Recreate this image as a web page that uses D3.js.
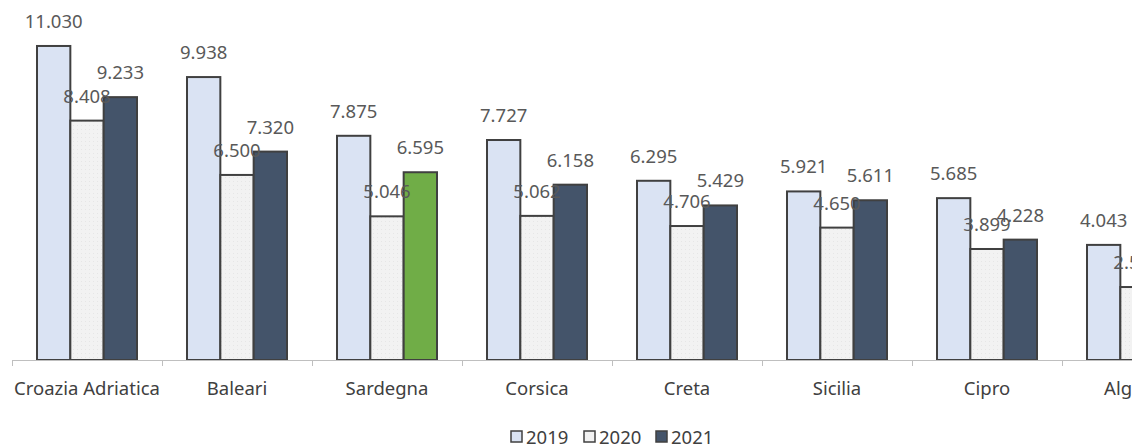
<!DOCTYPE html>
<html><head><meta charset="utf-8">
<script src="https://cdn.jsdelivr.net/npm/d3@7"></script>
<style>html,body{margin:0;padding:0;background:#fff;overflow:hidden}</style>
</head><body>
<svg id="c" width="1132" height="446"></svg>
<script>
const categories = ["Croazia Adriatica","Baleari","Sardegna","Corsica","Creta","Sicilia","Cipro","Algarve"];
const seriesNames = ["2019","2020","2021"];
const values2019 = [11030, 9938, 7875, 7727, 6295, 5921, 5685, 4043];
const values2020 = [8408, 6500, 5046, 5062, 4706, 4650, 3899, 2563];
const values2021 = [9233, 7320, 6595, 6158, 5429, 5611, 4228, 3100];
const highlight = "Sardegna";

const series = [values2019, values2020, values2021];
const fills = ["#dae3f3", "url(#dots)", "#44546a"];
const legendFills = ["#dae3f3", "#f2f2f2", "#44546a"];

const svg = d3.select("#c");
const defs = svg.append("defs");
const pat = defs.append("pattern").attr("id","dots").attr("width",4).attr("height",4).attr("patternUnits","userSpaceOnUse");
pat.append("rect").attr("width",4).attr("height",4).attr("fill","#f2f2f2");
pat.append("rect").attr("x",1).attr("y",1).attr("width",1).attr("height",1).attr("fill","#e6e6e6");

const loc = d3.formatLocale({decimal:",", thousands:".", grouping:[3], currency:["€",""]});
const fmt = loc.format(",d");

const x0 = d3.scaleBand().domain(categories).range([12, 12 + 150*categories.length]).paddingInner(0).paddingOuter(0);
const x1 = d3.scaleBand().domain(seriesNames).range([25, 125]).padding(0);
const y = d3.scaleLinear().domain([0, 12000]).range([360, 360 - 12000*0.02847]);

const font = "Noto Sans, sans-serif";
const fs = 18.5;

const g = svg.append("g");
categories.forEach((c, i) => {
  seriesNames.forEach((s, j) => {
    const v = series[j][i];
    const fill = (j === 2 && c === highlight) ? "#70ad47" : fills[j];
    const bx = x0(c) + x1(s);
    g.append("rect").attr("x", bx).attr("y", y(v)).attr("width", x1.bandwidth()).attr("height", y(0) - y(v))
      .attr("fill", fill).attr("stroke", "#404040").attr("stroke-width", 2);
  });
});
categories.forEach((c, i) => {
  seriesNames.forEach((s, j) => {
    const v = series[j][i];
    const bx = x0(c) + x1(s) + x1.bandwidth()/2;
    g.append("text").attr("x", bx).attr("y", y(v) - 18).attr("text-anchor","middle")
      .attr("font-family", font).attr("font-size", fs).attr("fill", "#595959").text(fmt(v));
  });
});

const ax = svg.append("g").attr("transform","translate(0,360)");
ax.append("line").attr("x1",12).attr("x2",1132).attr("y1",0.5).attr("y2",0.5).attr("stroke","#bfbfbf").attr("stroke-width",1);
const bounds = categories.map(c => x0(c)).concat([x0(categories[categories.length-1]) + x0.bandwidth()]);
ax.selectAll("line.tk").data(bounds).enter().append("line").attr("class","tk")
  .attr("x1", d => d + 0.5).attr("x2", d => d + 0.5).attr("y1", 0).attr("y2", 6).attr("stroke","#bfbfbf");
ax.selectAll("text.cat").data(categories).enter().append("text").attr("class","cat")
  .attr("x", d => x0(d) + x0.bandwidth()/2).attr("y", 35).attr("text-anchor","middle")
  .attr("font-family", font).attr("font-size", fs).attr("fill", "#404040").text(d => d);

const leg = svg.append("g");
const legX = [511, 584, 656];
seriesNames.forEach((s, j) => {
  leg.append("rect").attr("x", legX[j]).attr("y", 431).attr("width", 11).attr("height", 11)
    .attr("fill", legendFills[j]).attr("stroke", "#404040").attr("stroke-width", 1.5);
  leg.append("text").attr("x", legX[j] + 15).attr("y", 444).attr("font-family", font).attr("font-size", fs)
    .attr("fill", "#404040").text(s);
});
</script>
</body></html>
